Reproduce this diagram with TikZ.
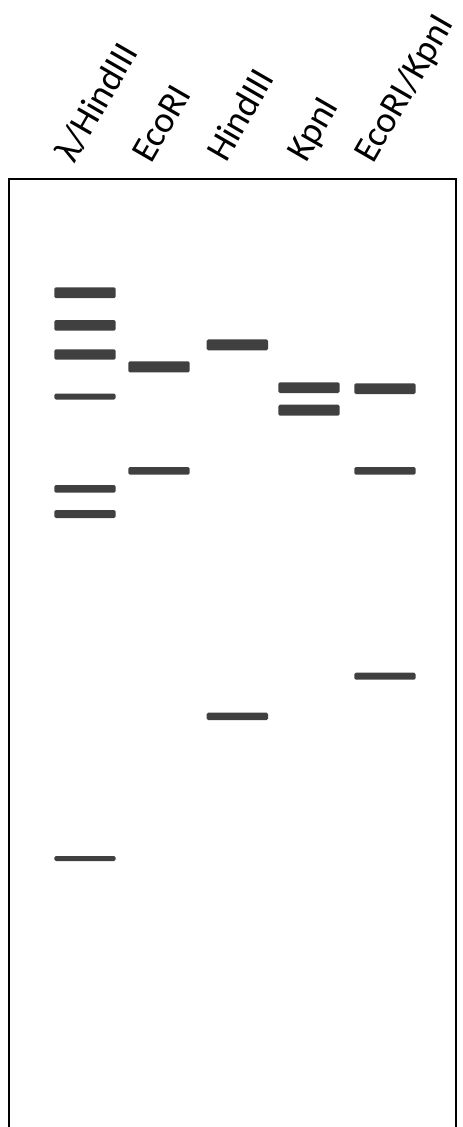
\documentclass[tikz,border=0pt]{standalone}
\usepackage{fontspec}
\setmainfont{Carlito}
\definecolor{bandgray}{HTML}{404040}
\begin{document}
\begin{tikzpicture}[x=1pt, y=-1pt, line join=round, line cap=round,
  band/.style={fill=bandgray, rounded corners=1.5pt},
  lanelabel/.style={anchor=base west, rotate=60, inner sep=0pt, font=\fontsize{37}{44}\selectfont}]
\useasboundingbox (0,0) rectangle (463,1127);
\path 	(74,165) coordinate (T1)
(151,165) coordinate (T2)
(226,164) coordinate (T3)
(306,164) coordinate (T4)
(373,165) coordinate (T5);
\node[lanelabel] (lamhind) at (T1) {λ/HindIII};
\node[lanelabel] (ecori) at (T2) {EcoRI};
\node[lanelabel] (hind) at (T3) {HindIII};
\node[lanelabel] (kpn) at (T4) {KpnI};
\node[lanelabel] (ecokpn) at (T5) {EcoRI/KpnI};
\draw[line width=2pt, line cap=butt, line join=miter] (9,1127)--(9,179)--(456,179)--(456,1127);
% lane 1
\fill[band] (54.3,287.4) rectangle (115.7,298.1);
\fill[band] (54.3,320) rectangle (115.7,330.7);
\fill[band] (54.3,349.3) rectangle (115.7,359.7);
\fill[band] (54.3,393.5) rectangle (115.7,399.5);
\fill[band] (54.3,485) rectangle (115.7,492.7);
\fill[band] (54.3,510) rectangle (115.7,518);
\fill[band] (54.3,856) rectangle (115.7,861);
% lane 2
\fill[band] (128.3,361.3) rectangle (189.7,372.3);
\fill[band] (128.3,467) rectangle (189.7,474.7);
% lane 3
\fill[band] (206.7,339.3) rectangle (268,350.3);
\fill[band] (206.7,712.7) rectangle (268,720);
% lane 4
\fill[band] (278.3,382.3) rectangle (339.7,393);
\fill[band] (278.3,404.7) rectangle (339.7,415.7);
% lane 5
\fill[band] (354.3,383.3) rectangle (415.7,394);
\fill[band] (354.3,467) rectangle (415.7,474.7);
\fill[band] (354.3,672.7) rectangle (415.7,679.7);
\end{tikzpicture}
\end{document}
